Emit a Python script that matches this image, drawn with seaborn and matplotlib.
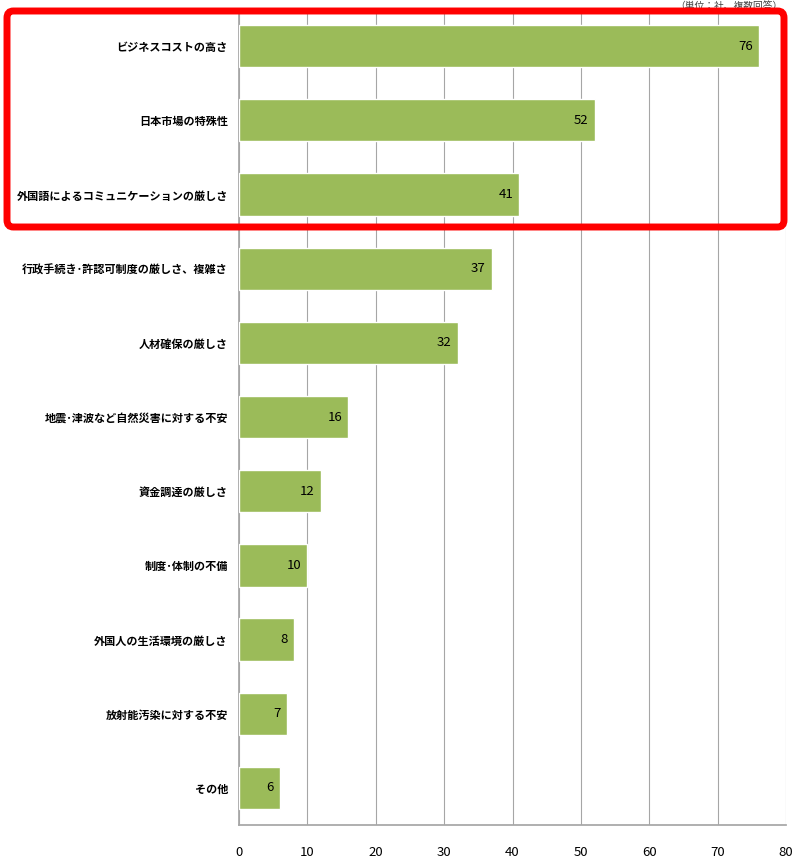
import numpy as np
import pandas as pd
import seaborn as sns
import matplotlib.pyplot as plt
from matplotlib.patches import FancyBboxPatch

# データ（単位：社、複数回答）
categories = ["ビジネスコストの高さ", "日本市場の特殊性", "外国語によるコミュニケーションの厳しさ",
              "行政手続き･許認可制度の厳しさ、複雑さ", "人材確保の厳しさ", "地震･津波など自然災害に対する不安",
              "資金調達の厳しさ", "制度･体制の不備", "外国人の生活環境の厳しさ",
              "放射能汚染に対する不安", "その他"]
values = [76, 52, 41, 37, 32, 16, 12, 10, 8, 7, 6]
x_ticks = [0, 10, 20, 30, 40, 50, 60, 70, 80]

df = pd.DataFrame({"item": categories, "count": values})

sns.set_theme(style="white")
plt.rcParams['font.family'] = ['Noto Sans CJK JP', 'DejaVu Sans']

fig = plt.figure(figsize=(7.94, 8.66), dpi=100)
ax = fig.add_axes([0.301, 0.0473, 0.689, 0.9423])

sns.barplot(data=df, x="count", y="item", color="#9BBB59", saturation=1,
            width=0.57, ax=ax, zorder=3)

ax.set_xlim(0, 80)
ax.set_xticks(x_ticks)
ax.xaxis.grid(True, color="#a6a6a6", linewidth=0.8, zorder=0)
ax.set_xlabel("")
ax.set_ylabel("")
for s in ["top", "right"]:
    ax.spines[s].set_visible(False)
ax.spines["left"].set_color("#a6a6a6")
ax.spines["bottom"].set_color("#a6a6a6")
ax.tick_params(axis="y", length=0, labelsize=8, pad=8, colors="#000000")
ax.tick_params(axis="x", length=0, labelsize=9.5, pad=15, colors="#000000")
for lab in ax.get_yticklabels():
    lab.set_fontweight("bold")

for i, v in enumerate(values):
    ax.text(v - 0.9, i, str(v), ha="right", va="center", fontsize=9.5, color="#000000", zorder=4)

fig.text(0.985, 0.999, "（単位：社、複数回答）", ha="right", va="top", fontsize=7, color="#404040")

box = FancyBboxPatch((7 / 794, 1 - 227 / 866), 777 / 794, 216 / 866,
                     boxstyle="round,pad=0,rounding_size=0.008",
                     transform=fig.transFigure, fill=False, edgecolor="#ff0000",
                     linewidth=5, zorder=10)
fig.patches.append(box)

fig.savefig("out.png", dpi=100)
